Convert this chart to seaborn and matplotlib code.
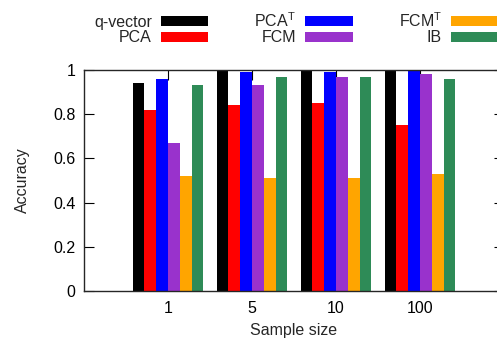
import pandas as pd
import seaborn as sns
import matplotlib.pyplot as plt
from matplotlib.patches import Patch

# datos
sample_sizes = ['1', '5', '10', '100']
methods = ['q-vector', 'PCA', 'PCA$^{\\mathrm{T}}$', 'FCM', 'FCM$^{\\mathrm{T}}$', 'IB']
colors = ['#000000', '#ff0000', '#0000ff', '#9932cc', '#ffa500', '#2e8b57']

acc_qvector = [0.94, 1.00, 1.00, 1.00]
acc_pca = [0.82, 0.84, 0.85, 0.75]
acc_pca_t = [0.96, 0.99, 0.99, 1.00]
acc_fcm = [0.67, 0.93, 0.97, 0.98]
acc_fcm_t = [0.52, 0.51, 0.51, 0.53]
acc_ib = [0.93, 0.97, 0.97, 0.96]

series = [acc_qvector, acc_pca, acc_pca_t, acc_fcm, acc_fcm_t, acc_ib]
rows = []
for m, vals in zip(methods, series):
    for s, v in zip(sample_sizes, vals):
        rows.append({'size': s, 'method': m, 'acc': v})
df = pd.DataFrame(rows)

sns.set_style('ticks')
plt.rcParams['font.family'] = ['Liberation Sans', 'DejaVu Sans']
plt.rcParams['mathtext.fontset'] = 'custom'
plt.rcParams['mathtext.rm'] = 'Liberation Sans'

FS = 11.5

fig = plt.figure(figsize=(4.97, 3.39), dpi=100)
ax = fig.add_axes([84 / 497, 1 - 291 / 339, 420 / 497, 221 / 339])

sns.barplot(data=df, x='size', y='acc', hue='method', order=sample_sizes,
            hue_order=methods, palette=colors, width=0.84, linewidth=0,
            saturation=1, ax=ax, legend=False, errorbar=None)

ax.set_xlim(-1, 4)
ax.set_ylim(0, 1)
ax.set_yticks([0, 0.2, 0.4, 0.6, 0.8, 1])
ax.set_yticklabels(['0', '0.2', '0.4', '0.6', '0.8', '1'])
ax.tick_params(direction='in', length=7, width=0.8, labelsize=FS,
               top=True, right=True, pad=6, colors='black')
ax.tick_params(axis='x', length=7, pad=7)
for sp in ax.spines.values():
    sp.set_linewidth(1.0)
    sp.set_visible(True)
ax.set_xlabel('Sample size', fontsize=FS, labelpad=5.5)
ax.set_ylabel('Accuracy', fontsize=FS, labelpad=17)

handles = [Patch(facecolor=c, edgecolor='none') for c in colors]
fig.legend(handles, methods, ncol=3, loc='upper left',
           bbox_to_anchor=(0.16, 1.01), frameon=False, markerfirst=False,
           fontsize=FS, handlelength=3.0, handleheight=0.55,
           handletextpad=0.55, columnspacing=2.88, labelspacing=0.05)

plt.savefig('out.png', dpi=100)
plt.close()
